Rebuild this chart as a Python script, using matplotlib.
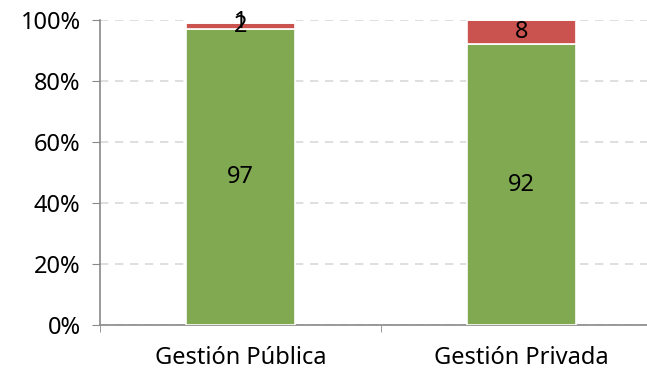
import matplotlib
matplotlib.use("Agg")
from matplotlib import pyplot as plt

# shares per school type (percent)
categories = ["Gestión Pública", "Gestión Privada"]
green_vals = [97, 92]
red_vals = [2, 8]
other_vals = [1, 0]

plt.rcParams['font.family'] = ['Noto Sans', 'DejaVu Sans']

fig = plt.figure(figsize=(6.47, 3.69), dpi=100)
# axes goes a bit past the right edge, like the original
ax = fig.add_axes([100/647, 44/369, 562/647, 305/369])

xs = list(range(len(categories)))
width = 0.39
ax.bar(xs, green_vals, width, color='#80a952', edgecolor='white', linewidth=1.2, zorder=3)
bottom2 = [g for g in green_vals]
ax.bar(xs, red_vals, width, bottom=bottom2, color='#cb534f', edgecolor='white', linewidth=1.2, zorder=3)
bottom3 = [g + r for g, r in zip(green_vals, red_vals)]
ax.bar(xs, other_vals, width, bottom=bottom3, color='white', edgecolor='white', linewidth=1.2, zorder=3)

# value labels in the middle of each segment
for x, g, r, o in zip(xs, green_vals, red_vals, other_vals):
    ax.text(x, g / 2, str(g), ha='center', va='center', fontsize=17, zorder=4)
    ax.text(x, g + r / 2, str(r), ha='center', va='center', fontsize=17, zorder=4)
    if o:
        ax.text(x, g + r + o / 2, str(o), ha='center', va='center', fontsize=17, zorder=4)

ax.set_xlim(-0.5, 1.5)
ax.set_ylim(0, 100)
ax.set_yticks([0, 20, 40, 60, 80, 100])
ax.set_yticklabels(["0%", "20%", "40%", "60%", "80%", "100%"], fontsize=17)
ax.set_xticks(xs)
ax.set_xticklabels(categories, fontsize=17)
ax.tick_params(axis='x', length=0, pad=15)
# category boundary ticks
ax.set_xticks([-0.5, 0.5, 1.5], minor=True)
ax.tick_params(axis='x', which='minor', length=5, color='#898989', direction='out')
ax.tick_params(axis='y', length=6, color='#898989', direction='out', pad=8)

ax.grid(axis='y', color='#d9d9d9', linestyle=(0, (5, 4)), linewidth=1.2, zorder=0)
for side in ['top', 'right']:
    ax.spines[side].set_visible(False)
for side in ['left', 'bottom']:
    ax.spines[side].set_color('#898989')
    ax.spines[side].set_linewidth(1.2)

fig.savefig("out.png", dpi=100)
